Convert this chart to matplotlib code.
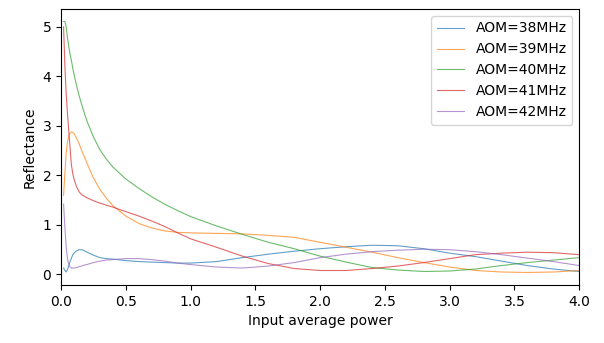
import matplotlib
matplotlib.use("Agg")
import matplotlib.pyplot as plt
import numpy as np

# input average power (shared grid)
power = [0.02, 0.03, 0.04, 0.05, 0.06, 0.07, 0.08, 0.09, 0.10, 0.12, 0.14, 0.16,
         0.18, 0.2, 0.25, 0.3, 0.35, 0.4, 0.5, 0.6, 0.7, 0.8, 0.9, 1.0, 1.2, 1.4,
         1.6, 1.8, 2.0, 2.2, 2.4, 2.6, 2.8, 3.0, 3.2, 3.4, 3.6, 3.8, 4.0]

aom_38 = [0.13, 0.08, 0.05, 0.10, 0.18, 0.26, 0.33, 0.39, 0.43, 0.48, 0.50, 0.50,
          0.48, 0.45, 0.39, 0.34, 0.32, 0.31, 0.28, 0.26, 0.25, 0.24, 0.23, 0.23,
          0.26, 0.34, 0.41, 0.47, 0.52, 0.56, 0.59, 0.58, 0.52, 0.43, 0.36, 0.27,
          0.18, 0.11, 0.06]
aom_39 = [1.60, 2.05, 2.45, 2.68, 2.80, 2.86, 2.88, 2.87, 2.85, 2.75, 2.64, 2.50,
          2.38, 2.25, 1.95, 1.72, 1.54, 1.39, 1.18, 1.03, 0.94, 0.88, 0.85, 0.84,
          0.83, 0.82, 0.79, 0.75, 0.65, 0.55, 0.45, 0.34, 0.24, 0.15, 0.08, 0.05,
          0.04, 0.05, 0.08]
aom_40 = [5.11, 5.11, 5.00, 4.78, 4.60, 4.45, 4.32, 4.18, 4.05, 3.82, 3.61, 3.43,
          3.26, 3.10, 2.78, 2.52, 2.33, 2.17, 1.93, 1.74, 1.57, 1.42, 1.29, 1.17,
          0.98, 0.81, 0.65, 0.52, 0.37, 0.25, 0.14, 0.09, 0.06, 0.07, 0.11, 0.18,
          0.24, 0.29, 0.34]
aom_41 = [5.00, 4.20, 3.65, 3.25, 2.90, 2.55, 2.22, 2.05, 1.93, 1.77, 1.67, 1.61,
          1.58, 1.55, 1.49, 1.44, 1.40, 1.36, 1.27, 1.18, 1.08, 0.97, 0.84, 0.72,
          0.55, 0.37, 0.22, 0.12, 0.08, 0.08, 0.12, 0.17, 0.24, 0.32, 0.40, 0.43,
          0.45, 0.44, 0.40]
aom_42 = [1.42, 0.95, 0.55, 0.32, 0.20, 0.15, 0.13, 0.13, 0.13, 0.14, 0.16, 0.17,
          0.19, 0.20, 0.24, 0.27, 0.29, 0.30, 0.32, 0.32, 0.30, 0.27, 0.23, 0.20,
          0.15, 0.13, 0.17, 0.24, 0.34, 0.41, 0.46, 0.49, 0.51, 0.50, 0.46, 0.40,
          0.33, 0.26, 0.18]

series = [("AOM=38MHz", aom_38), ("AOM=39MHz", aom_39), ("AOM=40MHz", aom_40),
          ("AOM=41MHz", aom_41), ("AOM=42MHz", aom_42)]

fig = plt.figure(figsize=(6.04, 3.43), dpi=100)
ax = fig.add_axes([0.101, 0.169, 0.858, 0.805])

for label, vals in series:
    ax.plot(power, vals, lw=0.8, alpha=0.7, label=label)

ax.set_xlim(0, 4.0)
ax.set_xticks(np.arange(0, 4.01, 0.5))
ax.set_xlabel("Input average power")
ax.set_ylabel("Reflectance")
ax.legend(loc="upper right")

fig.savefig("out.png", dpi=100)
